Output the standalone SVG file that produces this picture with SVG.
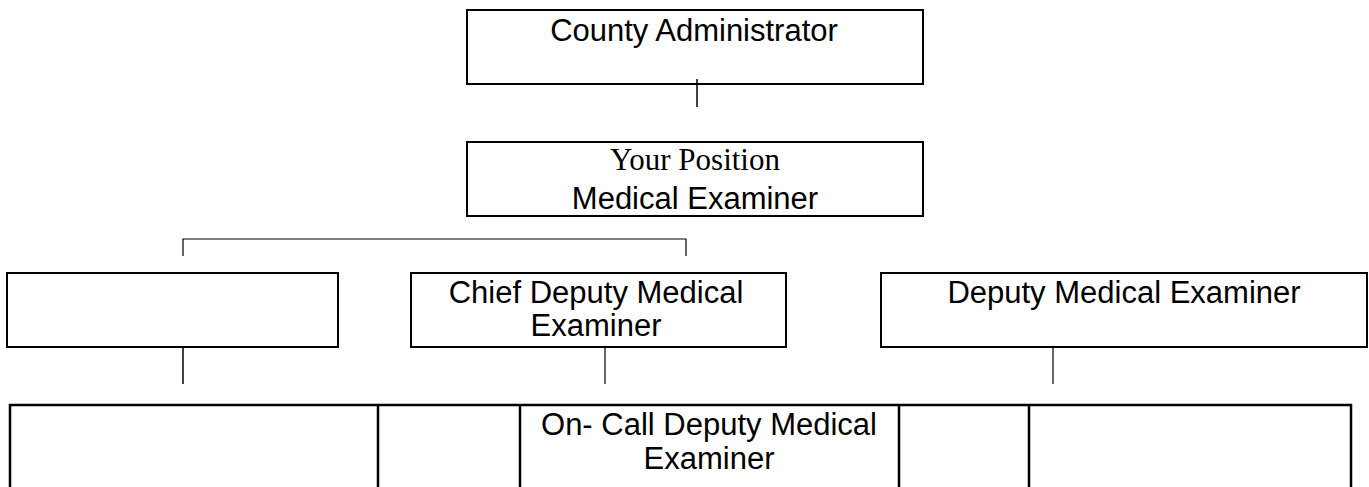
<svg xmlns="http://www.w3.org/2000/svg" width="1369" height="487" viewBox="0 0 1369 487">
<style>
.box{fill:#fff;stroke:#000;stroke-width:2}
.row{fill:none;stroke:#000;stroke-width:2.5}
.ln{fill:none;stroke:#000;stroke-width:1.5}
.thin{fill:none;stroke:#000;stroke-width:1.2}
.t{font-family:"Liberation Sans",Arial,sans-serif;font-size:31px;fill:#000;text-anchor:middle}
.s{font-family:"Liberation Serif","Times New Roman",serif;font-size:31px;fill:#000;text-anchor:middle}
</style>
<rect width="1369" height="487" fill="#fff"/>
<g id="county-administrator">
<rect class="box" x="467" y="10" width="456" height="74"/>
<text class="t" x="694" y="41">County Administrator</text>
</g>
<g id="medical-examiner">
<rect class="box" x="467" y="142" width="456" height="74"/>
<text class="s" x="695" y="170">Your Position</text>
<text class="t" x="695" y="209">Medical Examiner</text>
</g>
<g id="blank-left">
<rect class="box" x="7" y="273" width="331" height="74"/>
</g>
<g id="chief-deputy">
<rect class="box" x="411" y="273" width="375" height="74"/>
<text class="t" x="596" y="303">Chief Deputy Medical</text>
<text class="t" x="596" y="336">Examiner</text>
</g>
<g id="deputy">
<rect class="box" x="881" y="273" width="486" height="74"/>
<text class="t" x="1124" y="303">Deputy Medical Examiner</text>
</g>
<g id="bottom-row">
<rect class="row" x="10" y="405" width="1341" height="100"/>
<line class="row" x1="378" y1="405" x2="378" y2="487"/>
<line class="row" x1="520" y1="405" x2="520" y2="487"/>
<line class="row" x1="899" y1="405" x2="899" y2="487"/>
<line class="row" x1="1029" y1="405" x2="1029" y2="487"/>
</g>
<g id="on-call-deputy">
<text class="t" x="709" y="435">On- Call Deputy Medical</text>
<text class="t" x="709" y="469">Examiner</text>
</g>
<g id="connectors">
<line class="ln" x1="697" y1="79" x2="697" y2="107"/>
<polyline class="thin" points="183,256 183,239 686,239 686,256"/>
<line class="ln" x1="183" y1="347" x2="183" y2="384"/>
<line class="thin" x1="605" y1="346" x2="605" y2="384"/>
<line class="thin" x1="1053" y1="346" x2="1053" y2="384"/>
</g>
</svg>
